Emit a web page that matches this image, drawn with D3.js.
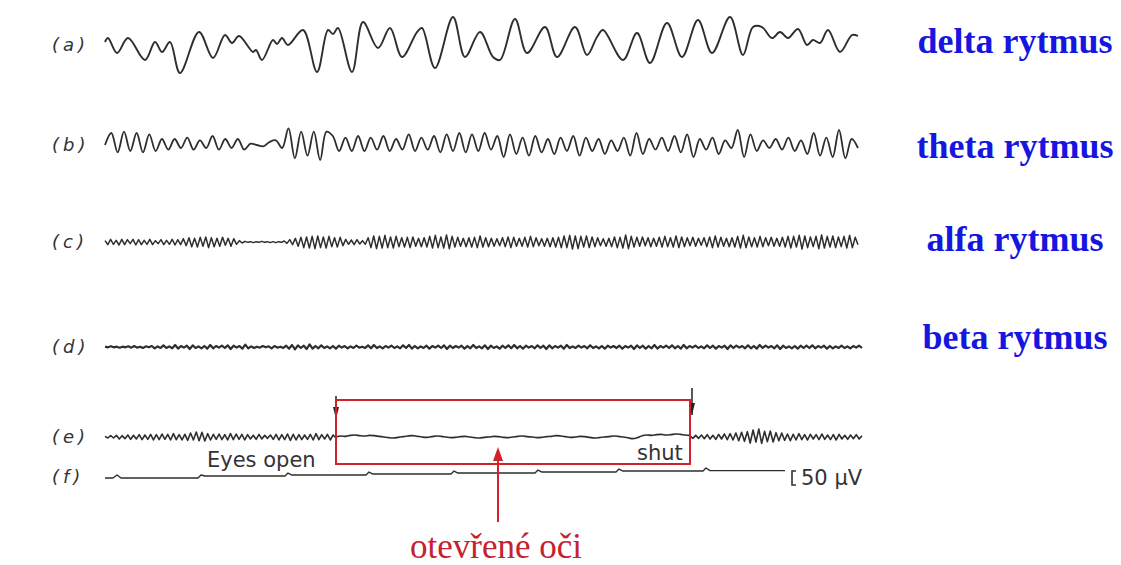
<!DOCTYPE html>
<html>
<head>
<meta charset="utf-8">
<script src="https://cdn.jsdelivr.net/npm/d3@7"></script>
<style>
  body { margin: 0; background: #fff; }
  svg { display: block; }
</style>
</head>
<body>
<svg id="chart" width="1121" height="565"></svg>
<script>
// row labels and rhythm names
const rowLabels = ["(a)", "(b)", "(c)", "(d)", "(e)", "(f)"];
const rhythmNames = ["delta rytmus", "theta rytmus", "alfa rytmus", "beta rytmus"];

// delta: [time ms, µV] at the turning points
const deltaPts = [
  [0, 9], [30, 21], [120, -24], [230, 21], [400, -45], [500, 9], [570, -21], [650, 9],
  [750, -84], [940, 39], [1080, -39], [1200, 30], [1270, 6], [1340, 27], [1480, -21],
  [1510, -15], [1570, -45], [1680, 15], [1720, 3], [1770, 21], [1830, 0], [1980, 45],
  [2120, -81], [2230, 45], [2280, 33], [2330, 51], [2470, -81], [2580, 69], [2730, -9],
  [2850, 51], [2970, -36], [3120, 39], [3170, 51], [3300, -69], [3480, 84], [3600, -36],
  [3750, 39], [3880, -36], [3950, -45], [4100, 78], [4220, -24], [4400, 54], [4520, -36],
  [4700, 54], [4820, -30], [4920, 24], [4980, 45], [5180, -45], [5320, 36], [5450, -54],
  [5620, 66], [5770, -36], [5930, 75], [6070, -24], [6250, 84], [6380, -30], [6480, 54],
  [6570, 54], [6670, 21], [6750, 39], [6830, 21], [6930, 48], [7020, 0], [7080, 15],
  [7150, 6], [7230, 45], [7350, -21], [7470, 30], [7530, 27]
];

// theta: turning points in µV, evenly sampled
const thetaV = [
  0,
  36, -22, 40, -18, 36, -22, 32, -18,
  18, -14, 18, -9, 22, -14, 14, -9, 27, -14, 18, -9, 18, -14,
  4, 0, -4, 9,
  14, -9, 50, -40, 40, -32, 40, -45, 40, 27, -18, 22, -18,
  27, -18, 22, -14, 27, -18, 18, -14, 32, -18, 22, -14, 27, -22, 32, -18, 36, -22, 32, -18, 36, -14,
  27, -36, 32, -27, 22, -32, 27, -22, 18, -27, 22, -18, 27, -32, 22, -18, 18, -27, 14, -18,
  22, -32, 36, -27, 18, -14, 22, -18, 27, -22, 32, -36, 18, -14, 22, -27, 14, -9, 45, -36,
  32, -18, 14, -9, 18, -14, 22, -18, 14, -27, 36, -32, 22, -36, 45, -40, 18, -9
];

// alpha: µV, evenly sampled
const alphaV = [
  4, -8, 8, -7, 5, -9, 8, -8, 7, -5, 8, -9, 7, -8, 5, -7, 8, -8, 4, -5,
  7, -8, 5, -7, 8, -9, 7, -8, 10, -11, 13, -14, 11, -15, 14, -13, 15, -17, 13, -14,
  11, -13, 14, -10, 11, -13, 10, -7, 4, -3, 2, -1, 1, -2, 1, -1, 2, -1, 1, -2,
  1, -2, 1, -1, 3, -4, 7, -8, 11, -13, 14, -17, 15, -18, 17, -20, 18, -17, 15, -18,
  17, -14, 13, -15, 14, -11, 8, -7, 6, -8, 7, -6, 4, -7, 13, -17, 18, -20, 17, -18,
  20, -17, 15, -18, 17, -14, 13, -15, 14, -17, 15, -13, 11, -14, 13, -15, 17, -18, 20, -17,
  15, -18, 21, -20, 17, -15, 14, -13, 11, -14, 13, -15, 14, -17, 18, -15, 13, -14, 11, -13,
  10, -11, 13, -14, 15, -17, 14, -13, 11, -13, 14, -15, 17, -14, 13, -11, 10, -13, 11, -14,
  13, -15, 14, -17, 18, -17, 20, -21, 18, -20, 17, -15, 18, -17, 15, -14, 13, -11, 10, -13,
  11, -14, 15, -17, 14, -18, 21, -20, 17, -15, 14, -13, 15, -11, 13, -14, 11, -13, 14, -15,
  17, -14, 13, -15, 18, -17, 15, -14, 13, -11, 14, -13, 11, -10, 13, -14, 15, -17, 18, -15,
  14, -13, 11, -14, 13, -15, 17, -18, 20, -17, 15, -14, 13, -15, 17, -14, 13, -11, 14, -13,
  11, -13, 14, -15, 17, -18, 17, -15, 20, -21, 18, -17, 15, -14, 17, -20, 21, -18, 17, -15,
  18, -17, 15, -14, 17, -18, 20, -17, 14, -8
];

// beta: µV, evenly sampled
const betaV = [
  1, -1, 2, -1, 1, -2, 1, -1, 2, -2, 3, -2, 1, -3, 2, -1, 3, -4, 2, -3,
  5, -3, 2, -4, 6, -5, 3, -2, 4, -6, 5, -3, 2, -4, 3, -5, 6, -4, 3, -2,
  4, -3, 5, -6, 4, -2, 3, -5, 7, -4, 2, -3, 1, -2, 3, -1, 2, -4, 3, -2,
  1, -3, 4, -5, 6, -7, 5, -3, 4, -6, 8, -5, 3, -4, 5, -3, 2, -4, 3, -5,
  4, -2, 3, -4, 2, -3, 4, -2, 1, -3, 5, -4, 6, -3, 2, -4, 3, -2, 4, -3,
  2, -4, 5, -3, 6, -5, 3, -4, 2, -3, 4, -5, 3, -2, 4, -3, 5, -6, 4, -3,
  3, -2, 4, -5, 3, -4, 6, -3, 2, -4, 5, -6, 4, -3, 2, -5, 4, -3, 5, -4,
  6, -4, 3, -5, 4, -2, 3, -4, 5, -3, 4, -6, 5, -4, 3, -2, 4, -5, 6, -3,
  2, -3, 4, -2, 3, -4, 5, -3, 2, -4, 3, -5, 4, -2, 3, -3, 4, -5, 3, -2,
  4, -6, 5, -3, 4, -5, 3, -4, 6, -5, 3, -2, 4, -3, 5, -4, 3, -5, 6, -4,
  3, -2, 4, -3, 2, -4, 5, -3, 4, -5, 3, -2, 4, -6, 5, -3, 4, -2, 3, -4,
  5, -4, 3, -5, 6, -3, 4, -2, 3, -4, 5, -6, 4, -3, 2, -4, 3, -5, 4, -3,
  4, -3, 5, -4, 3, -2, 4, -5, 3, -4, 2, -3, 4, -3, 2, -4, 3, -2, 4, -3
];

// (e) eyes shut -> open -> shut, µV, each evenly sampled
const eShut1V = [
  2, -3, 4, -3, 5, -6, 4, -5, 6, -7, 5, -6, 7, -8, 6, -7, 8, -9, 7, -8,
  9, -7, 8, -9, 10, -8, 7, -9, 8, -10, 12, -9, 15, -11, 14, -12, 10, -9, 8, -7,
  9, -8, 7, -9, 10, -8, 9, -7, 8, -9, 7, -6, 5, -7, 8, -6, 5, -4, 6, -7,
  8, -9, 7, -8, 9, -10, 8, -9, 7, -8, 6, -7, 8, -9, 10, -8, 7, -6, 8, -9,
  6, -3
];
const eOpenV = [
  0, 3, 2, 5, 6, 4, 3, 5, 4, 2, 0, -2, -3, -1, 1, 3, 4, 2, 0, -1,
  1, 3, 2, 0, -2, -1, 1, 2, 0, -2, -3, -1, 0, 2, 1, -1, -2, 0, 2, 3,
  1, 0, -2, -1, 1, 2, 4, 3, 1, -1, 0, 2, 1, -1, -3, -2, 0, 1, 3, 2,
  0, -2, -5, -2, 4, 6, 5, 7, 8, 6, 7, 9, 8, 6, 5
];
const eShut2V = [
  3, -4, 5, -4, 6, -5, 7, -6, 5, -7, 8, -6, 9, -8, 10, -9, 12, -11, 14, -13,
  16, -18, 21, -15, 24, -19, 17, -14, 18, -15, 13, -11, 12, -10, 9, -11, 8, -9, 10, -8,
  7, -9, 8, -6, 7, -8, 9, -7, 6, -8, 7, -9, 8, -6, 5, -7, 6, -5, 7, -6, 4
];
// time spans of the (e) parts, ms
const eSpans = [[0, 2310], [2310, 5850], [5850, 7570]];

// (f) marker channel: [time ms, µV]
const markerPts = [
  [0, -3], [80, -3], [120, 6], [160, -3], [930, -3], [960, 6], [1000, 3], [1800, 3],
  [1830, 12], [1870, 6], [2610, 6], [2640, 15], [2680, 9], [3460, 9], [3490, 18],
  [3530, 12], [4300, 12], [4330, 21], [4370, 15], [5110, 15], [5140, 24], [5180, 18],
  [5980, 18], [6010, 27], [6050, 19], [6800, 19]
];

const svg = d3.select("#chart");
const ink = "#2e2e2e";
const red = "#d3202b";

// time axis shared by all rows
const x = d3.scaleLinear().domain([0, 7600]).range([105, 865]);
const rowBase = [45, 145, 242, 347, 437, 477];

function yFor(base) {
  // 3 µV per pixel
  return d3.scaleLinear().domain([-100, 100]).range([base + 33.3, base - 33.3]);
}

function drawSampled(values, t0, t1, base, curve, width) {
  const xi = d3.scaleLinear().domain([0, values.length - 1]).range([x(t0), x(t1)]);
  const y = yFor(base);
  svg.append("path")
    .datum(values)
    .attr("d", d3.line().x((d, i) => xi(i)).y(d => y(d)).curve(curve))
    .attr("fill", "none").attr("stroke", ink).attr("stroke-width", width)
    .attr("stroke-linejoin", "round");
}

function drawPairs(pts, base, curve, width) {
  const y = yFor(base);
  svg.append("path")
    .datum(pts)
    .attr("d", d3.line().x(d => x(d[0])).y(d => y(d[1])).curve(curve))
    .attr("fill", "none").attr("stroke", ink).attr("stroke-width", width)
    .attr("stroke-linejoin", "round");
}

drawPairs(deltaPts, rowBase[0], d3.curveCatmullRom, 1.9);
drawSampled(thetaV, 0, 7530, rowBase[1], d3.curveCatmullRom, 1.8);
drawSampled(alphaV, 0, 7530, rowBase[2], d3.curveLinear, 1.5);
drawSampled(betaV, 0, 7570, rowBase[3], d3.curveLinear, 2.2);
[eShut1V, eOpenV, eShut2V].forEach((v, i) => {
  const curve = i === 1 ? d3.curveCatmullRom : d3.curveLinear;
  drawSampled(v, eSpans[i][0], eSpans[i][1], rowBase[4], curve, 1.6);
});
drawPairs(markerPts, rowBase[5], d3.curveLinear, 1.4);

// row labels
svg.selectAll("text.row")
  .data(rowLabels)
  .join("text")
  .attr("class", "row")
  .attr("x", 52)
  .attr("y", (d, i) => rowBase[i] + 6)
  .attr("font-family", "DejaVu Sans")
  .attr("font-size", 18)
  .attr("font-style", "italic")
  .attr("letter-spacing", 4)
  .attr("fill", "#333")
  .text(d => d);

// rhythm names
svg.selectAll("text.name")
  .data(rhythmNames)
  .join("text")
  .attr("class", "name")
  .attr("x", 1015)
  .attr("y", (d, i) => [53, 158, 251, 349][i])
  .attr("text-anchor", "middle")
  .attr("font-family", "Liberation Serif")
  .attr("font-weight", "bold")
  .attr("font-size", 36)
  .attr("fill", "#1616e0")
  .text(d => d);

// eyes open / shut annotations
svg.append("text").attr("x", 207).attr("y", 467)
  .attr("font-family", "DejaVu Sans").attr("font-size", 21).attr("fill", "#333")
  .text("Eyes open");
svg.append("text").attr("x", 637).attr("y", 460)
  .attr("font-family", "DejaVu Sans").attr("font-size", 21).attr("fill", "#333")
  .text("shut");

// calibration bracket
svg.append("path").attr("d", "M796,471 H792 V485 H796")
  .attr("fill", "none").attr("stroke", "#333").attr("stroke-width", 1.6);
svg.append("text").attr("x", 801).attr("y", 485)
  .attr("font-family", "DejaVu Sans").attr("font-size", 21).attr("fill", "#333")
  .text("50 µV");

// black event arrows
[[336, 396, 419], [692, 388, 415]].forEach(([ax, y0, y1]) => {
  svg.append("line").attr("x1", ax).attr("x2", ax).attr("y1", y0).attr("y2", y1)
    .attr("stroke", "#222").attr("stroke-width", 1.5);
  svg.append("path")
    .attr("d", `M${ax - 3},${y1 - 12} L${ax + 3},${y1 - 12} L${ax},${y1} Z`)
    .attr("fill", "#222");
});

// red box for eyes-open period
svg.append("rect").attr("x", 336).attr("y", 400).attr("width", 354).attr("height", 64)
  .attr("fill", "none").attr("stroke", red).attr("stroke-width", 2);

// red pointer and caption
svg.append("line").attr("x1", 498).attr("x2", 498).attr("y1", 522).attr("y2", 456)
  .attr("stroke", red).attr("stroke-width", 2);
svg.append("path").attr("d", "M493,461 L503,461 L498,447 Z").attr("fill", red);
svg.append("text").attr("x", 496).attr("y", 558)
  .attr("text-anchor", "middle")
  .attr("font-family", "Liberation Serif").attr("font-size", 35)
  .attr("fill", "#c8202e")
  .text("otevřené oči");
</script>
</body>
</html>
